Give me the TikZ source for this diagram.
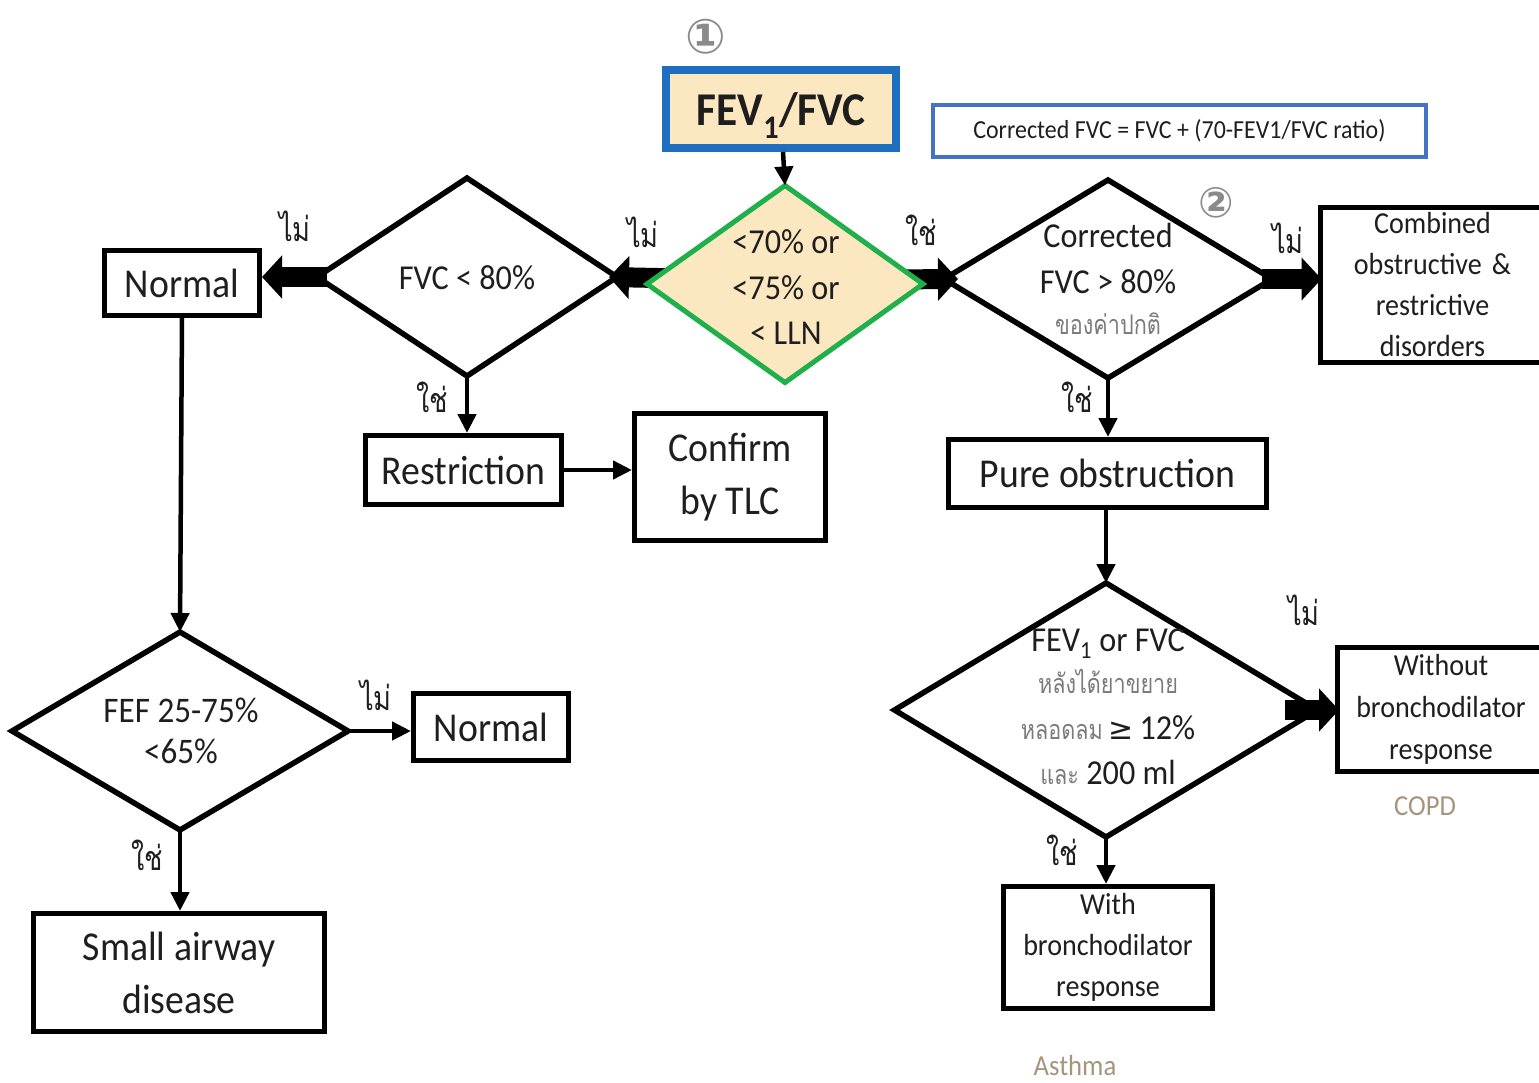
\documentclass[tikz,border=0pt]{standalone}
\usepackage{fontspec}
\setmainfont[FakeStretch=0.92]{Carlito}
\newfontfamily\thai[Script=Thai,FakeStretch=0.8]{Loma}
\newfontfamily\dejavu{DejaVu Sans}
\usetikzlibrary{shapes.geometric,arrows.meta,backgrounds}
\definecolor{fevblue}{HTML}{1F6FC0}
\definecolor{corrblue}{HTML}{4472C4}
\definecolor{dgreen}{HTML}{20B04B}
\definecolor{beige}{HTML}{FCE8C0}
\definecolor{txt}{HTML}{1E1E1E}
\definecolor{thaigray}{HTML}{7A7A7A}
\definecolor{hand}{HTML}{A6957B}
\definecolor{circgray}{HTML}{8A8A8A}
\begin{document}
\begin{tikzpicture}[x=1pt,y=-1pt,
  box/.style={draw=black, line width=5pt, inner sep=0pt, align=center, text=txt},
  dia/.style={draw=black, shape=diamond, line width=5.5pt, inner sep=0pt, outer sep=0pt},
  dtext/.style={anchor=base, inner sep=0pt, text=txt, font=\fontsize{35}{35}\selectfont},
  thgray/.style={anchor=base, inner sep=0pt, text=thaigray, font=\thai\fontsize{27}{27}\selectfont},
  thinarrow/.style={line width=4.5pt, -{Triangle[length=19pt,width=18pt]}},
  fatarrow/.style={line width=20pt, -{Triangle[length=20pt,width=42pt]}},
  lbl/.style={inner sep=0pt, text=txt, font=\thai\fontsize{34}{34}\selectfont},
  hand/.style={inner sep=0pt, text=hand, font=\fontsize{29}{29}\selectfont},
  circ/.style={inner sep=0pt, text=circgray, font=\dejavu\bfseries\fontsize{48}{48}\selectfont}]
\useasboundingbox (0,0) rectangle (1539,1082);

% ---------- top ----------
\node[circ] (c1) at (706,37) {①};
\node[box, minimum width=230pt, minimum height=78pt, line width=8pt, draw=fevblue, fill=beige, text depth=0pt,
      font=\bfseries\fontsize{47}{50}\selectfont] (fev) at (781,109) {FEV\textsubscript{1}/FVC};
\node[box, draw=corrblue, line width=4pt, minimum width=493pt, minimum height=52pt,
      font=\fontsize{26}{30}\selectfont] (corrf) at (1179.5,131) {Corrected FVC = FVC + (70-FEV1/FVC ratio)};

% ---------- diamonds ----------
\node[dia, minimum width=300pt, minimum height=198pt] (fvc) at (467,277) {};
\node[dia, minimum width=328pt, minimum height=198pt] (corr) at (1108,279) {};
\node[dia, minimum width=336pt, minimum height=198pt] (fef) at (180,731) {};
\node[dia, minimum width=423pt, minimum height=254pt] (fevd) at (1106,710) {};

% ---------- boxes ----------
\node[box, minimum width=155pt, minimum height=65pt, font=\fontsize{41}{50}\selectfont] (normA) at (182,283) {Normal};
\node[box, minimum width=196pt, minimum height=69pt, font=\fontsize{41}{50}\selectfont] (restr) at (463.5,470) {Restriction};
\node[box, minimum width=191pt, minimum height=127pt, font=\fontsize{41}{53}\selectfont] (confirm) at (730,477) {Confirm\\by TLC};
\node[box, minimum width=155pt, minimum height=67pt, font=\fontsize{41}{50}\selectfont] (normB) at (491,727) {Normal};
\node[box, minimum width=291pt, minimum height=118pt, font=\fontsize{41}{53}\selectfont] (small) at (179,972.5) {Small airway\\disease};
\node[box, minimum width=225pt, minimum height=155pt, font=\fontsize{30.5}{41}\selectfont, text width=220pt] (comb) at (1432.5,285) {Combined\\obstructive \&\\restrictive\\disorders};
\node[box, minimum width=318pt, minimum height=68pt, font=\fontsize{41}{50}\selectfont] (pure) at (1107.5,473.5) {Pure obstruction};
\node[box, minimum width=207pt, minimum height=124pt, font=\fontsize{30.5}{42}\selectfont, text width=200pt] (without) at (1441,709.5) {Without\\bronchodilator\\response};
\node[box, minimum width=209pt, minimum height=122pt, font=\fontsize{30.5}{41}\selectfont] (with) at (1108,947.5) {With\\bronchodilator\\response};

% ---------- fat arrows (behind the green diamond) ----------
\begin{pgfonlayer}{background}
\draw[fatarrow] ([xshift=10pt]fvc.west) -- (normA.east |- fvc.west);
\draw[fatarrow] ([xshift=-30pt]786,280) -- ([xshift=-8pt]fvc.east);
\draw[fatarrow] ([xshift=30pt]786,280) -- ([xshift=14pt]corr.west);
\draw[fatarrow] ([xshift=-10pt]corr.east) -- ([xshift=4pt]comb.west |- corr.east);
\draw[fatarrow] ([xshift=-33pt]fevd.east) -- ([xshift=4pt]without.west |- fevd.east);
\end{pgfonlayer}

\node[dia, draw=dgreen, fill=beige, line width=5pt, minimum width=276pt, minimum height=197pt] (green) at (785,284) {};

% ---------- diamond texts ----------
\node[dtext] (g1) at (786,253) {<70\% or};
\node[dtext] (g2) at (786,299) {<75\% or};
\node[dtext] (g3) at (786,344) {< LLN};
\node[dtext] (ft) at (467,289) {FVC < 80\%};
\node[dtext] (ct1) at (1108,247) {Corrected};
\node[dtext] (ct2) at (1108,293) {FVC > 80\%};
\node[thgray] (ct3) at (1108,334) {ของค่าปกติ};
\node[dtext, font=\fontsize{36}{36}\selectfont] (fe1) at (181,722) {FEF 25-75\%};
\node[dtext, font=\fontsize{36}{36}\selectfont] (fe2) at (181,763) {<65\%};
\node[dtext] (fv1) at (1108,651) {FEV\textsubscript{1} or FVC};
\node[thgray] (fv2) at (1108,693) {หลังได้ยาขยาย};
\node[dtext] (fv3) at (1108,739) {{\thai\color{thaigray}\fontsize{27}{27}\selectfont หลอดลม}\,{\dejavu\fontsize{30}{30}\selectfont ≥}\,12\%};
\node[dtext] (fv4) at (1108,784) {{\thai\color{thaigray}\fontsize{27}{27}\selectfont และ} 200 ml};

% ---------- thin arrows ----------
\draw[thinarrow] (fev.south -| 783,0) -- (green.north);
\draw[thinarrow] (fvc.south) -- (restr.north -| fvc.south);
\draw[thinarrow] (restr.east) -- (confirm.west |- restr.east);
\draw[thinarrow] (normA.south) -- (fef.north);
\draw[thinarrow] (fef.east) -- (normB.west |- fef.east);
\draw[thinarrow] (fef.south) -- (small.north -| fef.south);
\draw[thinarrow] (corr.south) -- (pure.north -| corr.south);
\draw[thinarrow] (pure.south -| fevd.north) -- (fevd.north);
\draw[thinarrow] (fevd.south) -- (with.north -| fevd.south);

% ---------- yes/no labels ----------
\node[lbl] (l1) at (295,226) {ไม่};
\node[lbl] (l2) at (643,232) {ไม่};
\node[lbl] (l3) at (921,230) {ใช่};
\node[lbl] (l4) at (1288,238) {ไม่};
\node[lbl] (l5) at (432,397) {ใช่};
\node[lbl] (l6) at (1077,397) {ใช่};
\node[lbl] (l7) at (376,695) {ไม่};
\node[lbl] (l8) at (147,855) {ใช่};
\node[lbl] (l9) at (1304,610) {ไม่};
\node[lbl] (l10) at (1062,850) {ใช่};

% ---------- annotations ----------
\node[circ, font=\dejavu\bfseries\fontsize{42}{42}\selectfont] (c2) at (1216,203) {②};
\node[hand] (copd) at (1425,806) {COPD};
\node[hand] (asthma) at (1075,1066) {Asthma};
\end{tikzpicture}
\end{document}
